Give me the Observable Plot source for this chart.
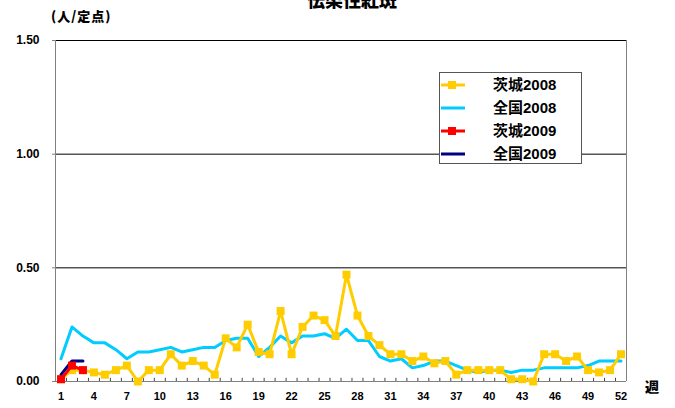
<!DOCTYPE html>
<html><head><meta charset="utf-8">
<script src="https://cdn.jsdelivr.net/npm/d3@7"></script>
<script src="https://cdn.jsdelivr.net/npm/@observablehq/plot@0.6"></script>
<style>
body{margin:0;background:#fff;}
#wrap{position:relative;width:675px;height:408px;overflow:hidden;font-family:"Liberation Sans",Arial,"Noto Sans CJK JP",sans-serif;font-weight:bold;color:#000;}
#wrap svg{position:absolute;left:0;top:0;}
.abs{position:absolute;white-space:nowrap;}
#title{left:0;width:704px;text-align:center;top:-10px;font-size:18px;line-height:18px;font-family:"Noto Sans CJK JP",sans-serif;font-weight:900;}
#unit{left:51px;top:9px;font-size:13px;line-height:14px;letter-spacing:1px;font-family:"Noto Sans CJK JP",sans-serif;font-weight:900;}
#week{left:645px;top:378px;font-size:14px;line-height:16px;font-family:"Noto Sans CJK JP",sans-serif;font-weight:900;}
#legend{left:439px;top:72px;width:141px;height:90px;border:1px solid #555;background:#fff;}
.row{position:absolute;left:0;height:20px;}
.row svg{position:absolute;left:24px;top:0;}
.row span{position:absolute;left:53px;top:0px;font-size:15px;line-height:20px;font-family:"Liberation Sans","Noto Sans CJK JP",sans-serif;font-weight:bold;}
</style></head><body><div id="wrap"></div>
<script>
const weeks = d3.range(1, 53);
const ibaraki2008 = [0.01,0.05,0.05,0.04,0.03,0.05,0.07,0.00,0.05,0.05,
  0.12,0.07,0.09,0.07,0.03,0.19,0.15,0.25,0.13,0.12,
  0.31,0.12,0.24,0.29,0.27,0.20,0.47,0.29,0.20,0.16,
  0.12,0.12,0.09,0.11,0.08,0.09,0.03,0.05,0.05,0.05,
  0.05,0.01,0.01,0.00,0.12,0.12,0.09,0.11,0.05,0.04,
  0.05,0.12];
const zenkoku2008 = [0.10,0.24,0.20,0.17,0.17,0.14,0.10,0.13,0.13,0.14,
  0.15,0.13,0.14,0.15,0.15,0.18,0.19,0.19,0.11,0.15,
  0.20,0.17,0.20,0.20,0.21,0.19,0.23,0.18,0.18,0.11,
  0.09,0.10,0.06,0.07,0.09,0.09,0.07,0.05,0.04,0.05,
  0.05,0.04,0.05,0.05,0.06,0.06,0.06,0.06,0.07,0.09,
  0.09,0.09];
const ibaraki2009 = [0.01,0.07,0.05];
const zenkoku2009 = [0.03,0.09,0.09];
const seriesNames = ["茨城2008","全国2008","茨城2009","全国2009"];
const seriesColors = ["#FFCC00","#00CCFF","#FF0000","#000080"];
const seriesMarkers = [true,false,true,false];
const xTickWeeks = [1,4,7,10,13,16,19,22,25,28,31,34,37,40,43,46,49,52];
const yTicks = [0,0.5,1,1.5];
const titleText = "伝染性紅斑";
const unitText = "(人/定点)";
const weekLabel = "週";

const toRows = (vals) => vals.map((v, i) => ({week: weeks[i], value: v}));
const ib08 = toRows(ibaraki2008), zk08 = toRows(zenkoku2008),
      ib09 = toRows(ibaraki2009), zk09 = toRows(zenkoku2009);
const boundaries = weeks.slice(0, -1).map(w => w + 0.5);

const chart = Plot.plot({
  width: 675, height: 408,
  marginLeft: 55, marginRight: 49, marginTop: 40, marginBottom: 27,
  x: {domain: [0.5, 52.5]},
  y: {domain: [0, 1.5]},
  style: {fontFamily: '"Liberation Sans", Arial, sans-serif', background: "#fff", color: "#000"},
  marks: [
    Plot.ruleY([0.5, 1, 1.5], {stroke: "#000", strokeWidth: 1}),
    Plot.ruleX([0.5, 52.5], {stroke: "#808080", strokeWidth: 1}),
    Plot.ruleY([0], {stroke: "#808080", strokeWidth: 1}),
    Plot.ruleX(boundaries, {y1: 0, y2: 0.014, stroke: "#444", strokeWidth: 1}),
    Plot.axisY({ticks: yTicks, tickFormat: d3.format(".2f"), tickSize: 3, tickPadding: 13,
      fontSize: 12, fontWeight: "bold", label: null, stroke: "#808080"}),
    Plot.axisX({ticks: xTickWeeks, tickFormat: d => String(d), tickSize: 0, tickPadding: 11,
      fontSize: 11, fontWeight: "bold", label: null}),
    Plot.line(zk08, {x: "week", y: "value", stroke: seriesColors[1], strokeWidth: 3}),
    Plot.line(ib08, {x: "week", y: "value", stroke: seriesColors[0], strokeWidth: 3}),
    Plot.dot(ib08, {x: "week", y: "value", symbol: "square", fill: seriesColors[0], r: 4.5}),
    Plot.line(zk09, {x: "week", y: "value", stroke: seriesColors[3], strokeWidth: 3}),
    Plot.line(ib09, {x: "week", y: "value", stroke: seriesColors[2], strokeWidth: 3}),
    Plot.dot(ib09, {x: "week", y: "value", symbol: "square", fill: seriesColors[2], r: 4.5})
  ]
});

const wrap = document.getElementById("wrap");
wrap.appendChild(chart);

function addText(id, txt) {
  const d = document.createElement("div");
  d.className = "abs"; d.id = id; d.textContent = txt;
  wrap.appendChild(d);
}
addText("title", titleText);
addText("unit", unitText);
addText("week", weekLabel);

const lg = document.createElement("div");
lg.className = "abs"; lg.id = "legend";
seriesNames.forEach((name, i) => {
  const row = document.createElement("div");
  row.className = "row";
  row.style.top = (2 + i * 23) + "px";
  row.style.width = "141px";
  const marker = seriesMarkers[i] ? `<rect x="8" y="6" width="8" height="8" fill="${seriesColors[i]}"/>` : "";
  row.innerHTML = `<svg width="26" height="20"><line x1="1" x2="25" y1="10" y2="10" stroke="${seriesColors[i]}" stroke-width="3"/>${marker}</svg><span>${name}</span>`;
  lg.appendChild(row);
});
wrap.appendChild(lg);
</script>
</body></html>
